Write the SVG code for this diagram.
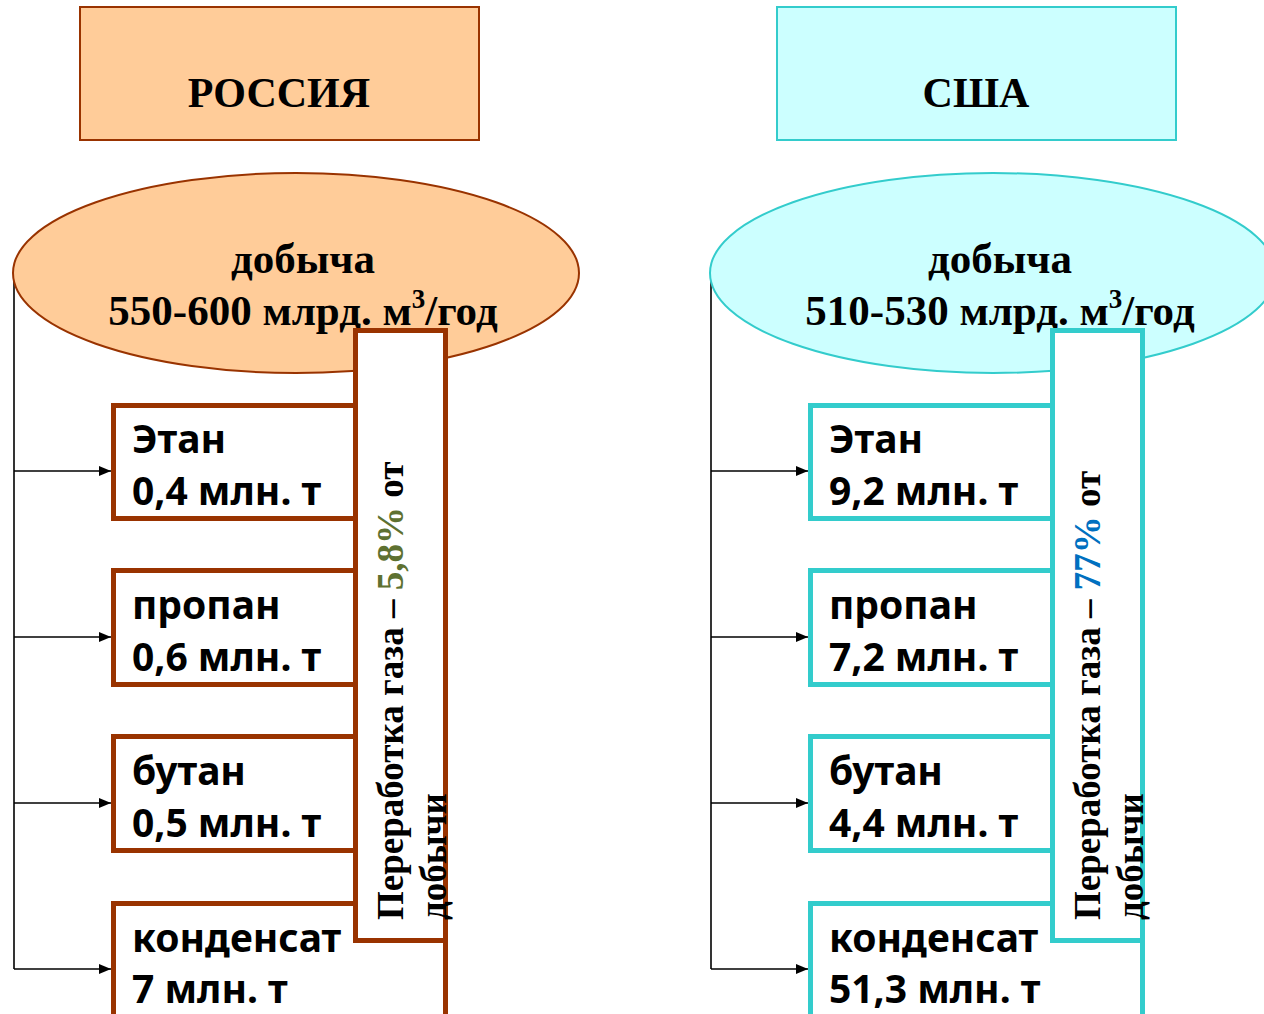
<svg xmlns="http://www.w3.org/2000/svg" width="1264" height="1014" viewBox="0 0 1264 1014">
<defs>
<style>
.title{font-family:"Liberation Serif","Times New Roman",serif;font-weight:bold;font-size:42px;fill:#000;text-anchor:middle}
.ell{font-family:"Liberation Serif","Times New Roman",serif;font-weight:bold;font-size:43px;fill:#000;text-anchor:middle}
.item{font-family:"Noto Sans","Open Sans",sans-serif;font-weight:bold;font-size:39px;fill:#000}
.vert{font-family:"Liberation Serif","Times New Roman",serif;font-weight:bold;font-size:37px;fill:#000}
.ru{fill:#FFCC99;stroke:#993300;stroke-width:2}
.us{fill:#CCFFFF;stroke:#33CCCC;stroke-width:2}
.rubox{fill:#fff;stroke:#993300;stroke-width:5}
.usbox{fill:#fff;stroke:#33CCCC;stroke-width:5}
.conn{fill:none;stroke:#000;stroke-width:1.6}
</style>
<marker id="arr" markerWidth="12" markerHeight="10" refX="12" refY="5" orient="auto" markerUnits="userSpaceOnUse">
<path d="M0,0 L12,5 L0,10 z" fill="#000"/>
</marker>
</defs>

<g id="connectors">
<path class="conn" d="M14,272 V969"/>
<path class="conn" d="M14,471 H111" marker-end="url(#arr)"/>
<path class="conn" d="M14,637 H111" marker-end="url(#arr)"/>
<path class="conn" d="M14,803 H111" marker-end="url(#arr)"/>
<path class="conn" d="M14,969 H111" marker-end="url(#arr)"/>
<path class="conn" d="M711,272 V969"/>
<path class="conn" d="M711,471 H808" marker-end="url(#arr)"/>
<path class="conn" d="M711,637 H808" marker-end="url(#arr)"/>
<path class="conn" d="M711,803 H808" marker-end="url(#arr)"/>
<path class="conn" d="M711,969 H808" marker-end="url(#arr)"/>
</g>

<g id="russia-title">
<rect class="ru" x="80" y="7" width="399" height="133"/>
<text class="title" x="279" y="107">РОССИЯ</text>
</g>
<g id="usa-title">
<rect class="us" x="777" y="7" width="399" height="133"/>
<text class="title" x="976" y="107">США</text>
</g>

<g id="russia-production">
<ellipse class="ru" cx="296" cy="273" rx="283" ry="100"/>
<text class="ell" x="303" y="273">добыча</text>
<text class="ell" x="303" y="325">550-600 млрд. м<tspan font-size="27" dy="-17">3</tspan><tspan dy="17">/год</tspan></text>
</g>
<g id="usa-production">
<ellipse class="us" cx="993" cy="273" rx="283" ry="100"/>
<text class="ell" x="1000" y="273">добыча</text>
<text class="ell" x="1000" y="325">510-530 млрд. м<tspan font-size="27" dy="-17">3</tspan><tspan dy="17">/год</tspan></text>
</g>

<g id="ru-ethane">
<rect class="rubox" x="113.5" y="405.5" width="332" height="113"/>
<text class="item" x="132" y="453">Этан</text>
<text class="item" x="132" y="505">0,4 млн. т</text>
</g>
<g id="ru-propane">
<rect class="rubox" x="113.5" y="570.5" width="332" height="114"/>
<text class="item" x="132" y="619">пропан</text>
<text class="item" x="132" y="671">0,6 млн. т</text>
</g>
<g id="ru-butane">
<rect class="rubox" x="113.5" y="736.5" width="332" height="114"/>
<text class="item" x="132" y="785">бутан</text>
<text class="item" x="132" y="837">0,5 млн. т</text>
</g>
<g id="ru-condensate">
<rect class="rubox" x="113.5" y="903.5" width="332" height="130"/>
<text class="item" x="132" y="952">конденсат</text>
<text class="item" x="132" y="1003">7 млн. т</text>
</g>
<g id="ru-processing">
<rect class="rubox" x="355.5" y="330.5" width="90" height="610"/>
<text class="vert" transform="translate(403,920) rotate(-90)">Переработка газа – <tspan fill="#5E7131">5,8%</tspan> от</text>
<text class="vert" transform="translate(446,920) rotate(-90)">добычи</text>
</g>

<g id="us-ethane">
<rect class="usbox" x="810.5" y="405.5" width="332" height="113"/>
<text class="item" x="829" y="453">Этан</text>
<text class="item" x="829" y="505">9,2 млн. т</text>
</g>
<g id="us-propane">
<rect class="usbox" x="810.5" y="570.5" width="332" height="114"/>
<text class="item" x="829" y="619">пропан</text>
<text class="item" x="829" y="671">7,2 млн. т</text>
</g>
<g id="us-butane">
<rect class="usbox" x="810.5" y="736.5" width="332" height="114"/>
<text class="item" x="829" y="785">бутан</text>
<text class="item" x="829" y="837">4,4 млн. т</text>
</g>
<g id="us-condensate">
<rect class="usbox" x="810.5" y="903.5" width="332" height="130"/>
<text class="item" x="829" y="952">конденсат</text>
<text class="item" x="829" y="1003">51,3 млн. т</text>
</g>
<g id="us-processing">
<rect class="usbox" x="1052.5" y="330.5" width="90" height="610"/>
<text class="vert" transform="translate(1100,920) rotate(-90)">Переработка газа – <tspan fill="#0070C0">77%</tspan> от</text>
<text class="vert" transform="translate(1143,920) rotate(-90)">добычи</text>
</g>
</svg>
